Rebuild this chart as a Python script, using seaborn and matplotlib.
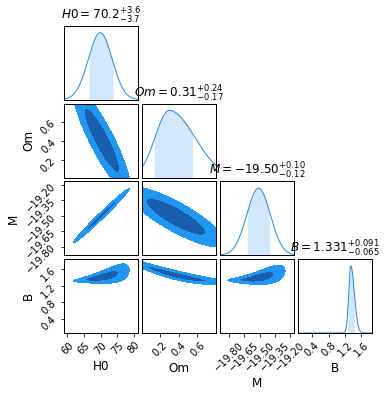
import numpy as np
import matplotlib
matplotlib.use("Agg")
import matplotlib.pyplot as plt
import seaborn as sns

# parameter names and summary values (from the titles)
names = ["H0", "Om", "M", "B"]
medians = [70.2, 0.31, -19.50, 1.331]
err_hi = [3.6, 0.24, 0.10, 0.091]
err_lo = [3.7, 0.17, 0.12, 0.065]
decimals = [1, 2, 2, 3]

# axis extents and ticks
limits = [(59.1, 81.4), (0.012, 0.80), (-19.885, -19.165), (0.05, 1.85)]
ticks = [[60, 65, 70, 75, 80], [0.2, 0.4, 0.6],
         [-19.80, -19.65, -19.50, -19.35, -19.20], [0.4, 0.8, 1.2, 1.6]]
tick_labels = [["60", "65", "70", "75", "80"], ["0.2", "0.4", "0.6"],
               ["\u221219.80", "\u221219.65", "\u221219.50", "\u221219.35", "\u221219.20"],
               ["0.4", "0.8", "1.2", "1.6"]]

# marginal shapes (peak, left/right width)
peak = [69.9, 0.30, -19.51, 1.34]
sig_left = [3.6, 0.15, 0.115, 0.05]
sig_right = [3.6, 0.27, 0.115, 0.085]

# 2D posterior shapes, keyed by (x index, y index)
# x centre, x sd, y at centre, slope, curvature, y sd, sd growth
pair_x_mean = {(0, 1): 70.4, (0, 2): 70.2, (1, 2): 0.37, (0, 3): 70.2, (1, 3): 0.37, (2, 3): -19.53}
pair_x_sd = {(0, 1): 3.5, (0, 2): 3.4, (1, 2): 0.21, (0, 3): 3.4, (1, 3): 0.21, (2, 3): 0.112}
pair_y0 = {(0, 1): 0.41, (0, 2): -19.50, (1, 2): -19.51, (0, 3): 1.41, (1, 3): 1.461, (2, 3): 1.39}
pair_slope = {(0, 1): -0.0574, (0, 2): 0.031, (1, 2): -0.47, (0, 3): 0.0158, (1, 3): -0.547, (2, 3): 0.409}
pair_curve = {(0, 1): 0.0, (0, 2): 0.0, (1, 2): 0.0, (0, 3): 0.000645, (1, 3): 0.403, (2, 3): 0.818}
pair_y_sd = {(0, 1): 0.105, (0, 2): 0.016, (1, 2): 0.064, (0, 3): 0.06, (1, 3): 0.045, (2, 3): 0.062}
pair_grow = {(0, 1): 0.0, (0, 2): 0.0, (1, 2): 0.0, (0, 3): 0.38, (1, 3): 0.0, (2, 3): 0.35}

line_color = "#2A8AE2"
shade_color = "#D2E7FA"
outer_color = "#2196F3"
inner_color = "#1A5FAE"

sns.set_style("ticks", {"axes.edgecolor": "black", "xtick.color": "black",
                        "ytick.color": "black", "text.color": "black",
                        "axes.labelcolor": "black"})
plt.rcParams["font.family"] = ["DejaVu Sans"]
plt.rcParams["mathtext.fontset"] = "dejavusans"

n = len(names)
fig, axes = plt.subplots(n, n, figsize=(385 / 72, 397 / 72), dpi=72)
fig.subplots_adjust(left=0.1675, right=0.9655, top=0.9345, bottom=0.1612,
                    wspace=0.054, hspace=0.054)

for i in range(n):
    for j in range(n):
        ax = axes[i, j]
        if j > i:
            ax.set_visible(False)
            continue
        for s in ax.spines.values():
            s.set_linewidth(1.0)
        ax.set_xlim(*limits[j])
        if i == j:
            xs = np.linspace(limits[i][0], limits[i][1], 400)
            sd = np.where(xs < peak[i], sig_left[i], sig_right[i])
            ys = np.exp(-0.5 * ((xs - peak[i]) / sd) ** 2)
            lo = medians[i] - err_lo[i]
            hi = medians[i] + err_hi[i]
            band = (xs >= lo) & (xs <= hi)
            ax.fill_between(xs[band], 0, ys[band], color=shade_color, lw=0)
            sns.lineplot(x=xs, y=ys, ax=ax, color=line_color, linewidth=1.0)
            ax.set_ylim(0, 1.1 * ys.max())
            ax.set_yticks([])
            d = decimals[i]
            title = r"$%s = %.*f^{+%.*f}_{-%.*f}$" % (names[i], d, medians[i], d, err_hi[i], d, err_lo[i])
            ax.set_title(title, fontsize=12, pad=5)
        else:
            key = (j, i)
            ax.set_ylim(*limits[i])
            gx = np.linspace(limits[j][0], limits[j][1], 300)
            gy = np.linspace(limits[i][0], limits[i][1], 300)
            X, Y = np.meshgrid(gx, gy)
            u = X - pair_x_mean[key]
            centre = pair_y0[key] + pair_slope[key] * u + pair_curve[key] * u ** 2
            ysd = pair_y_sd[key] * np.exp(pair_grow[key] * u / pair_x_sd[key])
            Q = (u / pair_x_sd[key]) ** 2 + ((Y - centre) / ysd) ** 2
            ax.contourf(X, Y, Q, levels=[-1, 2.30, 6.18], colors=[inner_color, outer_color])
        # ticks
        if i == n - 1:
            ax.set_xticks(ticks[j])
            ax.set_xticklabels(tick_labels[j], rotation=45, fontsize=10)
            ax.set_xlabel(names[j], fontsize=12)
        else:
            ax.set_xticks([])
        if j == 0 and i > 0:
            ax.set_yticks(ticks[i])
            ax.set_yticklabels(tick_labels[i], rotation=45, fontsize=10)
            ax.set_ylabel(names[i], fontsize=12)
        elif i != j:
            ax.set_yticks([])
        ax.tick_params(direction="out", length=3.5, width=0.8)

fig.savefig("out.png", dpi=72)
